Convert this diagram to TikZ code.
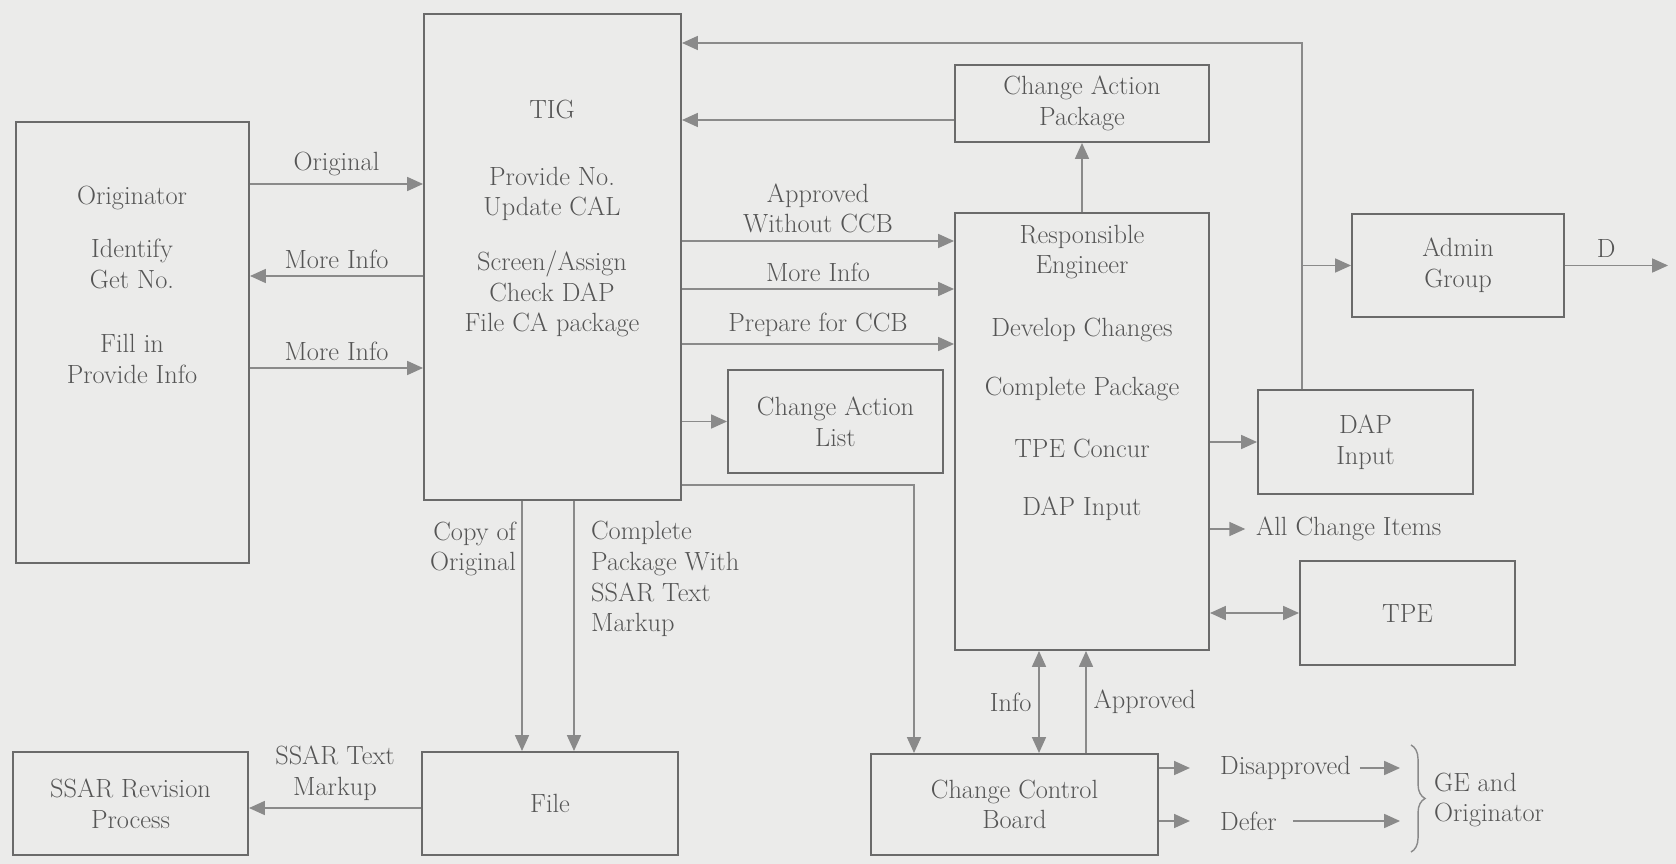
\documentclass[tikz,border=0pt]{standalone}
\usepackage{tikz}
\usetikzlibrary{positioning,arrows.meta,decorations.pathreplacing}
\definecolor{scanbg}{HTML}{EBEBEA}
\definecolor{scanline}{HTML}{6A6A6A}
\definecolor{scanwire}{HTML}{8A8A8A}
\definecolor{scantext}{HTML}{555555}
\tikzset{
  box/.style={draw=scanline,line width=1.2pt,inner sep=0pt},
  txt/.style={text=scantext,font=\fontsize{15}{17.5}\selectfont,align=center,inner sep=1pt},
  flow/.style={draw=scanwire,line width=0.7pt,->},
  both/.style={draw=scanwire,line width=0.7pt,<->},
}

\begin{document}
\begin{tikzpicture}[x=0.02cm,y=-0.02cm,>={Triangle[length=9pt,width=8pt]}]
\fill[scanbg] (0,0) rectangle (1676,864);
% boxes
\node[box,minimum width=4.66cm,minimum height=8.82cm] (orig) at (132.5,342.5) {};
\node[box,minimum width=5.14cm,minimum height=9.72cm] (tig) at (552.5,257) {};
\node[box,minimum width=5.08cm,minimum height=8.74cm] (resp) at (1082,431.5) {};
\node[box,txt,minimum width=5.08cm,minimum height=1.54cm] (cap) at (1082,103.5) {Change Action\\Package};
\node[box,txt,minimum width=4.30cm,minimum height=2.06cm] (cal) at (835.5,421.5) {Change Action\\List};
\node[box,txt,minimum width=4.24cm,minimum height=2.06cm] (admin) at (1458,265.5) {Admin\\Group};
\node[box,txt,minimum width=4.30cm,minimum height=2.08cm] (dap) at (1365.5,442) {DAP\\Input};
\node[box,txt,minimum width=4.30cm,minimum height=2.08cm] (tpe) at (1407.5,613) {TPE};
\node[box,txt,minimum width=5.74cm,minimum height=2.02cm] (ccb) at (1014.5,804.5) {Change Control\\Board};
\node[box,txt,minimum width=5.12cm,minimum height=2.06cm] (file) at (550,803.5) {File};
\node[box,txt,minimum width=4.70cm,minimum height=2.06cm] (ssar) at (130.5,803.5) {SSAR Revision\\Process};
% texts of the tall boxes
\node[txt] (orig-a) at (132,198) {Originator};
\node[txt] (orig-b) at (132,264) {Identify\\Get No.};
\node[txt] (orig-c) at (132,359) {Fill in\\Provide Info};
\node[txt] (tig-a) at (552,110) {TIG};
\node[txt] (tig-b) at (552,194) {Provide No.\\Update CAL};
\node[txt] (tig-c) at (552,294) {Screen/Assign\\Check DAP\\File CA package};
\node[txt] (resp-a) at (1082,252) {Responsible\\Engineer};
\node[txt] (resp-b) at (1082,330) {Develop Changes};
\node[txt] (resp-c) at (1082,389) {Complete Package};
\node[txt] (resp-d) at (1082,449) {TPE Concur};
\node[txt] (resp-e) at (1082,509) {DAP Input};
% originator <-> TIG
\draw[flow] (orig.east |- 0,184) -- (tig.west |- 0,184) node[txt,midway,above=3pt] (l-orig) {Original};
\draw[flow] (tig.west |- 0,276) -- (orig.east |- 0,276) node[txt,midway,above=3pt] (l-more1) {More Info};
\draw[flow] (orig.east |- 0,368) -- (tig.west |- 0,368) node[txt,midway,above=3pt] (l-more2) {More Info};
% TIG -> responsible engineer
\draw[flow] (tig.east |- 0,241) -- (resp.west |- 0,241) node[txt,midway,above=3pt] (l-appr) {Approved\\Without CCB};
\draw[flow] (tig.east |- 0,289) -- (resp.west |- 0,289) node[txt,midway,above=3pt] (l-more3) {More Info};
\draw[flow] (tig.east |- 0,344) -- (resp.west |- 0,344) node[txt,midway,above=3pt] (l-prep) {Prepare for CCB};
\draw[flow] (tig.east |- cal.west) -- (cal.west);
\draw[flow] (tig.east |- 0,485) -| (ccb.north -| 914,0);
% feedback to TIG
\coordinate (jadm) at (admin.west -| 1302,0);
\draw[flow] (1302,0 |- dap.north) |- (tig.east |- 0,43);
\draw[flow] (jadm) -- (admin.west);
\draw[flow] (cap.west |- 0,120) -- (tig.east |- 0,120);
\draw[flow] (resp.north) -- (cap.south);
\coordinate (dout) at (1668,265.5);
\draw[flow] (admin.east) -- (dout) node[txt,pos=0.4,above=3pt] (l-d) {D};
% responsible engineer outputs
\draw[flow] (resp.east |- dap.west) -- (dap.west);
\node[txt,anchor=west] (items) at (1254,529) {All Change Items};
\draw[flow] (resp.east |- items) -- ([xshift=-5pt]items.west);
\draw[both] (resp.east |- tpe.west) -- (tpe.west);
% change control board
\draw[both] (ccb.north -| 1039,0) -- (resp.south -| 1039,0) node[txt,midway,left=3pt] (l-info) {Info};
\draw[flow] (ccb.north -| 1086,0) -- (resp.south -| 1086,0) node[txt,midway,right=3pt] (l-ok) {Approved};
\node[txt,anchor=west] (dis) at (1218,768) {Disapproved};
\node[txt,anchor=west] (defer) at (1218,821) {Defer};
\coordinate (ge-a) at (1400,768);
\coordinate (ge-b) at (1400,821);
\draw[flow] (ccb.east |- dis) -- ([xshift=-16pt]dis.west);
\draw[flow] (ccb.east |- defer) -- ([xshift=-16pt]defer.west);
\draw[flow] ([xshift=4pt]dis.east) -- (ge-a);
\draw[flow] ([xshift=8pt]defer.east) -- (ge-b);
\draw[draw=scanwire,line width=0.8pt,decorate,decoration={brace,amplitude=8pt}] (1411,745) -- (1411,852);
\node[txt,anchor=west,align=left] (ge) at (1432,800) {GE and\\Originator};
% filing
\draw[flow] (tig.south -| 522,0) -- (file.north -| 522,0);
\draw[flow] (tig.south -| 574,0) -- (file.north -| 574,0);
\node[txt,anchor=east,align=right] (l-copy) at (518,549) {Copy of\\Original};
\node[txt,anchor=west,align=left] (l-pkg) at (589,579) {Complete\\Package With\\SSAR Text\\Markup};
\draw[flow] (file.west |- 0,808) -- (ssar.east |- 0,808) node[txt,midway,above=3pt] (l-mark) {SSAR Text\\Markup};
\end{tikzpicture}
\end{document}
